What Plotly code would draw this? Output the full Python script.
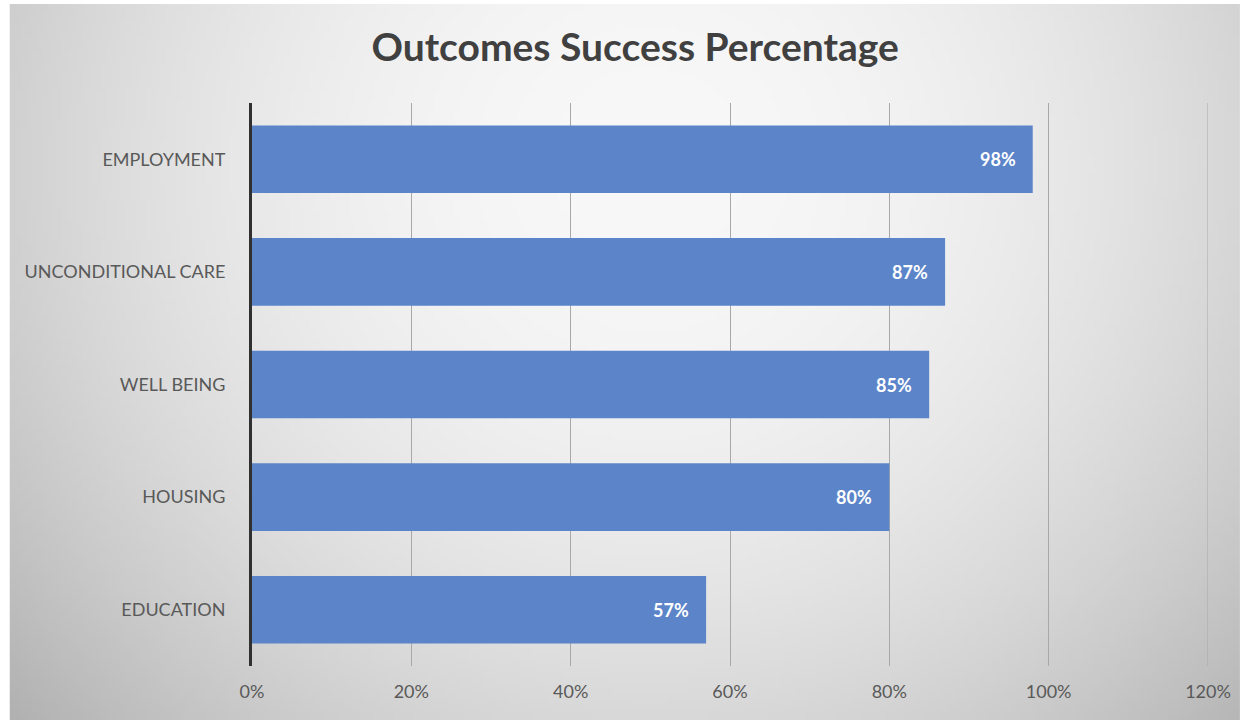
import base64
import struct
import zlib

import numpy as np
import plotly.graph_objects as go

# ---- data ----
categories = ["EMPLOYMENT", "UNCONDITIONAL CARE", "WELL BEING", "HOUSING", "EDUCATION"]
values = [0.98, 0.87, 0.85, 0.80, 0.57]
tick_values = [0, 0.2, 0.4, 0.6, 0.8, 1.0, 1.2]
tick_labels = ["0%", "20%", "40%", "60%", "80%", "100%", "120%"]
title_text = "Outcomes Success Percentage"


# ---- radial gradient background as a PNG data URI ----
def gradient_png(w=248, h=144):
    ys, xs = np.mgrid[0:h, 0:w]
    fx = xs / (w - 1)
    fy = ys / (h - 1)
    d = np.sqrt(((fx - 0.52) / 0.6) ** 2 + ((fy - 0.22) / 1.0) ** 2)
    c = 248 - 52 * np.clip(d, 0, 1.3) ** 2
    c = np.clip(c, 0, 255).astype(np.uint8)
    rgb = np.stack([c, c, c], axis=-1)
    raw = b"".join(b"\x00" + rgb[r].tobytes() for r in range(h))

    def chunk(tag, data):
        return (struct.pack(">I", len(data)) + tag + data +
                struct.pack(">I", zlib.crc32(tag + data) & 0xFFFFFFFF))

    png = b"\x89PNG\r\n\x1a\n"
    png += chunk(b"IHDR", struct.pack(">IIBBBBB", w, h, 8, 2, 0, 0, 0))
    png += chunk(b"IDAT", zlib.compress(raw, 9))
    png += chunk(b"IEND", b"")
    return "data:image/png;base64," + base64.b64encode(png).decode()


W, H = 1243, 725
L, R, T, B = 252, 32, 103, 59
pw = W - L - R
ph = H - T - B

fig = go.Figure()
fig.add_trace(go.Bar(
    x=values,
    y=categories,
    orientation="h",
    marker=dict(color="#5b84c9", line=dict(width=0)),
    hoverinfo="x+y",
))

annotations = []
for c, v in zip(categories, values):
    annotations.append(dict(
        x=v, y=c, xref="x", yref="y",
        text=f"{round(v * 100)}%",
        showarrow=False, xanchor="right", yanchor="middle", xshift=-15,
        font=dict(family="Lato", size=18, color="white", weight="bold"),
    ))

bg_x0 = 9
bg_y0 = 4
bg_y1 = 720
fig.update_layout(
    width=W, height=H,
    margin=dict(l=L, r=R, t=T, b=B),
    paper_bgcolor="white",
    plot_bgcolor="rgba(0,0,0,0)",
    bargap=0.4,
    showlegend=False,
    title=dict(
        text=title_text,
        x=0.511, xanchor="center",
        y=1 - 47 / H, yanchor="middle", yref="container",
        font=dict(family="Lato", size=39, color="#404040", weight="bold"),
    ),
    images=[dict(
        source=gradient_png(),
        xref="paper", yref="paper",
        x=(bg_x0 - L) / pw, y=(H - B - bg_y0) / ph,
        sizex=(W - bg_x0) / pw, sizey=(bg_y1 - bg_y0) / ph,
        xanchor="left", yanchor="top",
        sizing="stretch", layer="below",
    )],
    shapes=[dict(
        type="line", xref="x", yref="paper",
        x0=tick_values[-1], x1=tick_values[-1], y0=0, y1=1,
        line=dict(color="#a8a8a8", width=1), layer="below",
    )],
    annotations=annotations,
    xaxis=dict(
        range=[0, 1.2],
        tickvals=tick_values,
        ticktext=tick_labels,
        showgrid=True,
        gridcolor="#a8a8a8",
        gridwidth=1,
        zeroline=False,
        showline=False,
        ticks="",
        ticklabelstandoff=13,
        tickfont=dict(family="Lato", size=18, color="#595959"),
        fixedrange=True,
    ),
    yaxis=dict(
        categoryorder="array",
        categoryarray=categories,
        autorange="reversed",
        showgrid=False,
        zeroline=False,
        showline=True,
        linecolor="#303030",
        linewidth=3,
        ticks="",
        ticklabelstandoff=20,
        tickfont=dict(family="Lato", size=18, color="#595959"),
        fixedrange=True,
    ),
)

fig.write_html(
    "out.html",
    config={"displayModeBar": False},
    post_script="document.body.style.margin='0';document.body.style.overflow='hidden';",
)
